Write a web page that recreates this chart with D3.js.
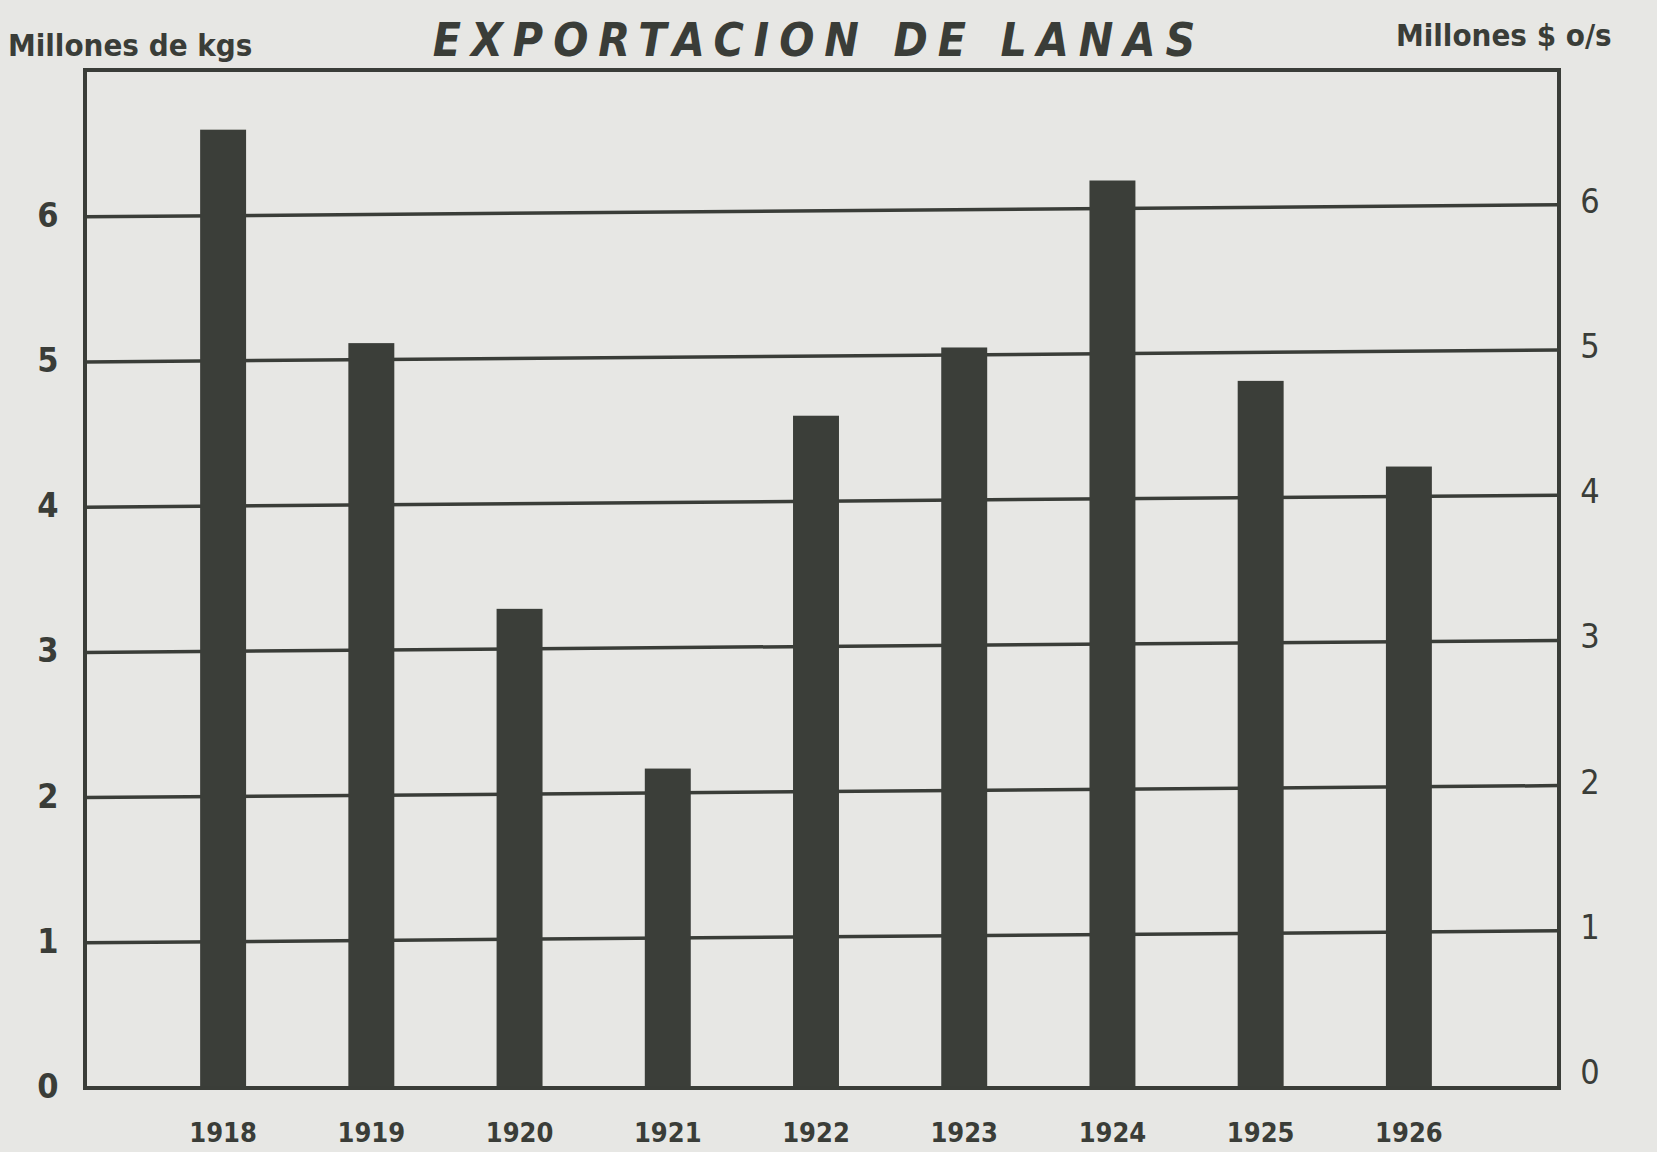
<!DOCTYPE html>
<html>
<head>
<meta charset="utf-8">
<script src="https://cdn.jsdelivr.net/npm/d3@7"></script>
<style>
  body { margin: 0; background: #e7e7e4; }
  svg { display: block; }
</style>
</head>
<body>
<svg></svg>
<script>
const years = ["1918", "1919", "1920", "1921", "1922", "1923", "1924", "1925", "1926"];
const exports = [6.6, 5.13, 3.3, 2.2, 4.63, 5.1, 6.25, 4.87, 4.28];
const yTicks = [0, 1, 2, 3, 4, 5, 6];

const W = 1657, H = 1152;
const frame = {left: 85, right: 1559, top: 70, bottom: 1088};
const ink = "#3a3d38";
const tilt = 12; // hand-drawn gridlines rise slightly to the right

const svg = d3.select("svg")
    .attr("width", W)
    .attr("height", H);

svg.append("rect")
    .attr("width", W).attr("height", H)
    .attr("fill", "#e7e7e4");

const x = d3.scaleBand()
    .domain(years)
    .range([149, 1483])
    .paddingInner(0.69)
    .paddingOuter(0.345);

const y = d3.scaleLinear()
    .domain([0, 7])
    .range([frame.bottom, frame.bottom - 7 * 145.2]);

// gridlines
svg.append("g")
  .selectAll("line")
  .data(yTicks.filter(d => d > 0))
  .enter().append("line")
    .attr("x1", frame.left)
    .attr("x2", frame.right)
    .attr("y1", d => y(d))
    .attr("y2", d => y(d) - tilt)
    .attr("stroke", ink)
    .attr("stroke-width", 3.5);

// bars
svg.append("g")
  .selectAll("rect")
  .data(exports)
  .enter().append("rect")
    .attr("x", (d, i) => x(years[i]))
    .attr("y", d => y(d))
    .attr("width", x.bandwidth())
    .attr("height", d => y(0) - y(d))
    .attr("fill", "#3b3e39");

// frame
svg.append("rect")
    .attr("x", frame.left)
    .attr("y", frame.top)
    .attr("width", frame.right - frame.left)
    .attr("height", frame.bottom - frame.top)
    .attr("fill", "none")
    .attr("stroke", ink)
    .attr("stroke-width", 4);

const font = "'DejaVu Sans Condensed', 'DejaVu Sans', sans-serif";

// left axis labels
svg.append("g")
  .selectAll("text")
  .data(yTicks)
  .enter().append("text")
    .attr("x", 48)
    .attr("y", d => y(d) - 2)
    .attr("dy", "0.35em")
    .attr("text-anchor", "middle")
    .attr("font-family", font)
    .attr("font-weight", "bold")
    .attr("font-size", 34)
    .attr("fill", ink)
    .text(d => d);

// right axis labels
svg.append("g")
  .selectAll("text")
  .data(yTicks)
  .enter().append("text")
    .attr("x", 1590)
    .attr("y", d => y(d) - 16)
    .attr("dy", "0.35em")
    .attr("text-anchor", "middle")
    .attr("font-family", font)
    .attr("font-size", 34)
    .attr("fill", ink)
    .text(d => d);

// year labels
svg.append("g")
  .selectAll("text")
  .data(years)
  .enter().append("text")
    .attr("x", d => x(d) + x.bandwidth() / 2)
    .attr("y", 1142)
    .attr("text-anchor", "middle")
    .attr("font-family", font)
    .attr("font-weight", "bold")
    .attr("font-size", 27)
    .attr("fill", ink)
    .text(d => d);

// title and units
svg.append("text")
    .attr("x", 819)
    .attr("y", 56)
    .attr("text-anchor", "middle")
    .attr("font-family", font)
    .attr("font-style", "italic")
    .attr("font-weight", "bold")
    .attr("font-size", 46)
    .attr("letter-spacing", 10)
    .attr("fill", ink)
    .text("EXPORTACION  DE  LANAS");

svg.append("text")
    .attr("x", 8)
    .attr("y", 56)
    .attr("font-family", font)
    .attr("font-weight", "bold")
    .attr("font-size", 31)
    .attr("fill", ink)
    .text("Millones de kgs");

svg.append("text")
    .attr("x", 1396)
    .attr("y", 46)
    .attr("font-family", font)
    .attr("font-weight", "bold")
    .attr("font-size", 31)
    .attr("fill", ink)
    .text("Millones $ o/s");
</script>
</body>
</html>
